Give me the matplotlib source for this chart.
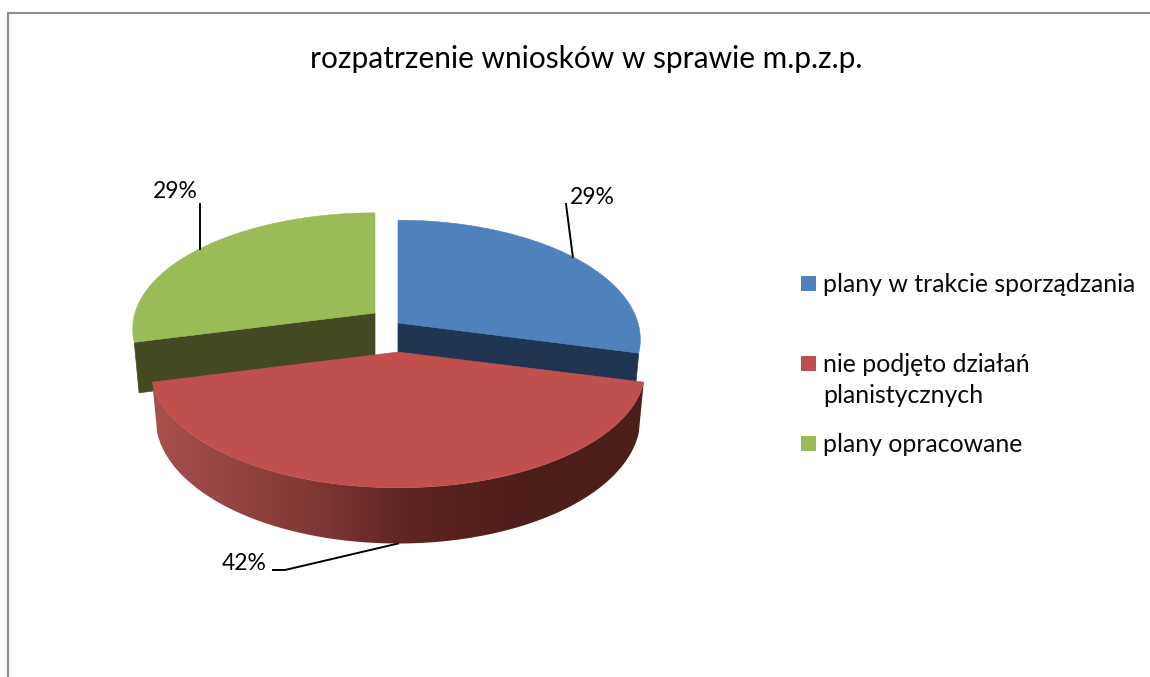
import numpy as np
import matplotlib
matplotlib.use("Agg")
import matplotlib.pyplot as plt
from matplotlib.colors import LinearSegmentedColormap
from matplotlib.patches import Rectangle

plt.rcParams['font.family'] = ['Lato', 'DejaVu Sans']

title = "rozpatrzenie wniosków w sprawie m.p.z.p."
categories = ["plany w trakcie sporządzania", "nie podjęto działań\nplanistycznych", "plany opracowane"]
shares = [29, 42, 29]

top_colors = ["#4F81BD", "#C0504D", "#9BBB59"]
cut_colors = ["#1F3552", "#5A1F1C", "#434A22"]
wall_cmap = LinearSegmentedColormap.from_list(
    "wall", [(0, "#A8504E"), (0.3, "#843A37"), (0.52, "#5F2424"), (0.75, "#4F1E1A"), (1, "#4D1F1B")])

# exploded slice centres in pixels, and the radii of each
centres = [(398, 323), (398, 352), (375, 313)]
radii = [240, 245, 240]
vradii = [117, 117, 114]
K = 0.138    # perspective strength
DEPTH = 49
BOTTOM_SX = 0.98
BOTTOM_SY = 1.05


def project(theta, i, bottom=False):
    # theta is clockwise from the back of the pie
    cx, cy = centres[i]
    u, v = np.sin(theta), -np.cos(theta)
    w = 1 / (1 - K * v)
    if bottom:
        return cx + BOTTOM_SX * radii[i] * u * w, cy + DEPTH + BOTTOM_SY * vradii[i] * v * w
    return cx + radii[i] * u * w, cy + vradii[i] * v * w


fig = plt.figure(figsize=(11.5, 6.77), dpi=100)
ax = fig.add_axes([0, 0, 1, 1])
ax.axis("off")

# chart frame, only left and top edges are in the picture
ax.plot([8, 8, 1150], [677, 12.5, 12.5], color="#8C8C8C", lw=1.5, solid_joinstyle="miter")

edges = np.radians(np.cumsum([0] + shares) / sum(shares) * 360)
spans = list(zip(edges[:-1], edges[1:]))

# back slices first, red one sits in front
for i in [2, 0, 1]:
    a0, a1 = spans[i]
    c = centres[i]
    t = np.linspace(a0, a1, 200)
    xt, yt = project(t, i)
    xb, yb = project(t, i, bottom=True)

    if i in (0, 2):
        k = -1 if i == 0 else 0
        cut = [[c[0], c[1]], [xt[k], yt[k]], [xb[k], yb[k]], [c[0], c[1] + DEPTH]]
        ax.add_patch(plt.Polygon(cut, fc=cut_colors[i], ec=cut_colors[i], lw=0.5, zorder=2))
    else:
        # outer wall: horizontal gradient clipped to the wall outline
        outline = np.column_stack([np.r_[xt, xb[::-1]], np.r_[yt, yb[::-1]]])
        clip = plt.Polygon(outline, fc="none", ec="none", transform=ax.transData)
        ax.add_patch(clip)
        grad = np.linspace(0, 1, 512)[None, :]
        im = ax.imshow(grad, cmap=wall_cmap, aspect="auto", zorder=3, interpolation="bilinear",
                       extent=(outline[:, 0].min(), outline[:, 0].max(), outline[:, 1].max(), outline[:, 1].min()))
        im.set_clip_path(clip)

    top = np.column_stack([np.r_[c[0], xt], np.r_[c[1], yt]])
    ax.add_patch(plt.Polygon(top, fc=top_colors[i], ec=top_colors[i], lw=0.4, zorder=4))

ax.set_xlim(0, 1150)
ax.set_ylim(677, 0)

ax.text(586, 68, title, fontsize=21.5, ha="center", va="baseline", color="#000000")

# leader lines start from the middle of each slice
mids = [(a0 + a1) / 2 for a0, a1 in spans]
xa, ya = project(mids[0], 0)
ax.plot([xa, 566], [ya, 204], color="black", lw=1.4, zorder=5)
ax.text(570, 204, f"{shares[0]}%", fontsize=16.5, ha="left", va="baseline")

xa, ya = project(mids[2], 2)
ax.plot([xa, xa], [ya, 204], color="black", lw=1.4, zorder=5)
ax.text(153, 198, f"{shares[2]}%", fontsize=16.5, ha="left", va="baseline")

xa, ya = project(mids[1], 1, bottom=True)
ax.plot([xa, 285, 273], [ya, 570, 570], color="black", lw=1.4, zorder=5)
ax.text(222, 570, f"{shares[1]}%", fontsize=16.5, ha="left", va="baseline")

# legend
legend_y = [292, 372, 452]
for name, col, y in zip(categories, top_colors, legend_y):
    ax.add_patch(Rectangle((801, y - 16), 15, 15, fc=col, ec="none"))
    ax.text(823, y, name.split("\n")[0], fontsize=17.9, ha="left", va="baseline", color="#0A0A0A")
    if "\n" in name:
        ax.text(823, y + 31, name.split("\n")[1], fontsize=17.9, ha="left", va="baseline", color="#0A0A0A")

fig.savefig("out.png", dpi=100)
